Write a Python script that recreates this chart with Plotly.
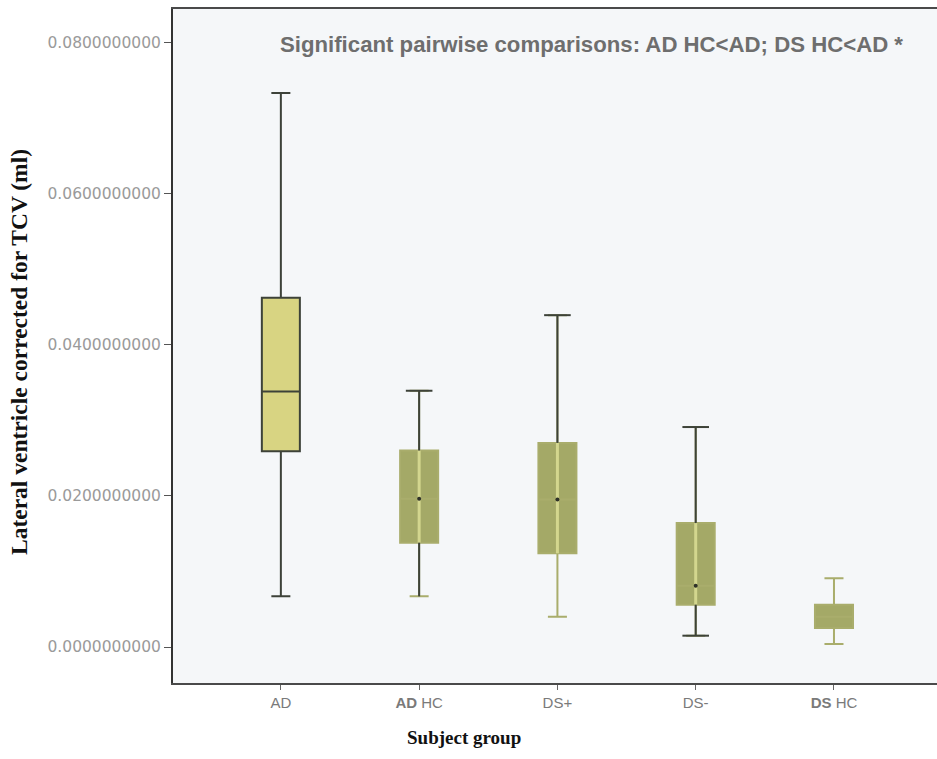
import plotly.graph_objects as go

# ---- data ----
groups = ["AD", "AD HC", "DS+", "DS-", "DS HC"]
tick_labels = ["AD", "<b>AD</b> HC", "DS+", "DS-", "<b>DS</b> HC"]
lower_whisker = [0.0067, 0.0067, 0.0040, 0.0015, 0.0004]
q1 = [0.0259, 0.0138, 0.0124, 0.0056, 0.0025]
median = [0.0338, 0.0196, 0.0195, 0.0081, 0.0040]
q3 = [0.0462, 0.0260, 0.0270, 0.0164, 0.0056]
upper_whisker = [0.0733, 0.0339, 0.0439, 0.0291, 0.0091]
y_ticks = [0.0, 0.02, 0.04, 0.06, 0.08]

# ---- styles ----
DARK = "#3d4239"
OLIVE = "#a4a967"
OLIVE_LINE = "#a9ad6c"
YELLOW = "#d8d482"
STRIPE = "#d3d68e"
box_fill = [YELLOW, OLIVE, OLIVE, OLIVE, OLIVE]
box_line = [DARK, OLIVE_LINE, OLIVE_LINE, OLIVE_LINE, OLIVE_LINE]
dark_upper = [False, True, True, True, False]
dark_lower = [False, True, False, True, False]
show_stripe = [False, True, True, True, False]
show_dot = [False, True, True, True, False]

fig = go.Figure()

for i, g in enumerate(groups):
    fig.add_trace(go.Box(
        x=[g], q1=[q1[i]], median=[median[i]], q3=[q3[i]],
        lowerfence=[lower_whisker[i]], upperfence=[upper_whisker[i]],
        width=0.275, whiskerwidth=0.5, fillcolor=box_fill[i],
        line=dict(color=box_line[i], width=2), boxpoints=False,
        showlegend=False, name=g))

# light stripe inside olive boxes
sx, sy = [], []
for i, g in enumerate(groups):
    if show_stripe[i]:
        sx += [g, g, None]
        sy += [q1[i], q3[i], None]
fig.add_trace(go.Scatter(x=sx, y=sy, mode="lines",
                         line=dict(color=STRIPE, width=3),
                         showlegend=False, hoverinfo="skip"))

# dark whisker segments and caps
wx, wy, cx, cy = [], [], [], []
for i, g in enumerate(groups):
    if dark_upper[i]:
        wx += [g, g, None]
        wy += [q3[i], upper_whisker[i], None]
        cx.append(g); cy.append(upper_whisker[i])
    if dark_lower[i]:
        wx += [g, g, None]
        wy += [q1[i], lower_whisker[i], None]
        if i == 3:
            cx.append(g); cy.append(lower_whisker[i])
fig.add_trace(go.Scatter(x=wx, y=wy, mode="lines",
                         line=dict(color=DARK, width=2),
                         showlegend=False, hoverinfo="skip"))
fig.add_trace(go.Scatter(x=cx, y=cy, mode="markers",
                         marker=dict(symbol="line-ew", size=19,
                                     line=dict(color=DARK, width=2)),
                         showlegend=False, hoverinfo="skip"))

# median dots
dx = [g for i, g in enumerate(groups) if show_dot[i]]
dy = [median[i] for i in range(len(groups)) if show_dot[i]]
fig.add_trace(go.Scatter(x=dx, y=dy, mode="markers",
                         marker=dict(color="#2e3128", size=4),
                         showlegend=False, hoverinfo="skip"))

fig.update_layout(
    width=937, height=759,
    margin=dict(l=173, r=0, t=9, b=76),
    paper_bgcolor="#ffffff",
    plot_bgcolor="#f5f7f9",
    boxmode="overlay",
    xaxis=dict(
        type="category", categoryorder="array", categoryarray=groups,
        tickvals=groups, ticktext=tick_labels,
        range=[-0.78, 4.745],
        showline=True, linecolor="#4a4a4a", linewidth=2, mirror=True,
        ticks="outside", ticklen=5, tickcolor="#666", tickwidth=1,
        tickfont=dict(family="Liberation Sans", size=15, color="#7a7a7a"),
        showgrid=False, zeroline=False,
    ),
    yaxis=dict(
        range=[-0.00476, 0.0844],
        tickvals=y_ticks, tickformat=".10f",
        showline=True, linecolor="#333333", linewidth=2,
        ticks="outside", ticklen=7, tickcolor="#555", tickwidth=1,
        tickfont=dict(family="DejaVu Sans", size=15.5, color="#9a9a9a"),
        showgrid=False, zeroline=False,
    ),
    annotations=[
        dict(text="<b>Significant pairwise comparisons: AD HC&lt;AD; DS HC&lt;AD *</b>",
             xref="paper", yref="paper", x=0.548, y=0.948,
             xanchor="center", yanchor="middle", showarrow=False,
             font=dict(family="Liberation Sans", size=22.2, color="#6e6e6e")),
        dict(text="<b>Subject group</b>",
             xref="paper", yref="paper", x=0.381, y=-0.0816,
             xanchor="center", yanchor="middle", showarrow=False,
             font=dict(family="Liberation Serif", size=19, color="#111111")),
        dict(text="<b>Lateral ventricle corrected for TCV (ml)</b>",
             xref="paper", yref="paper", x=-0.2016, y=0.491,
             xanchor="center", yanchor="middle", showarrow=False, textangle=-90,
             font=dict(family="Liberation Serif", size=23.5, color="#111111")),
    ],
)

fig.write_html("out.html")
